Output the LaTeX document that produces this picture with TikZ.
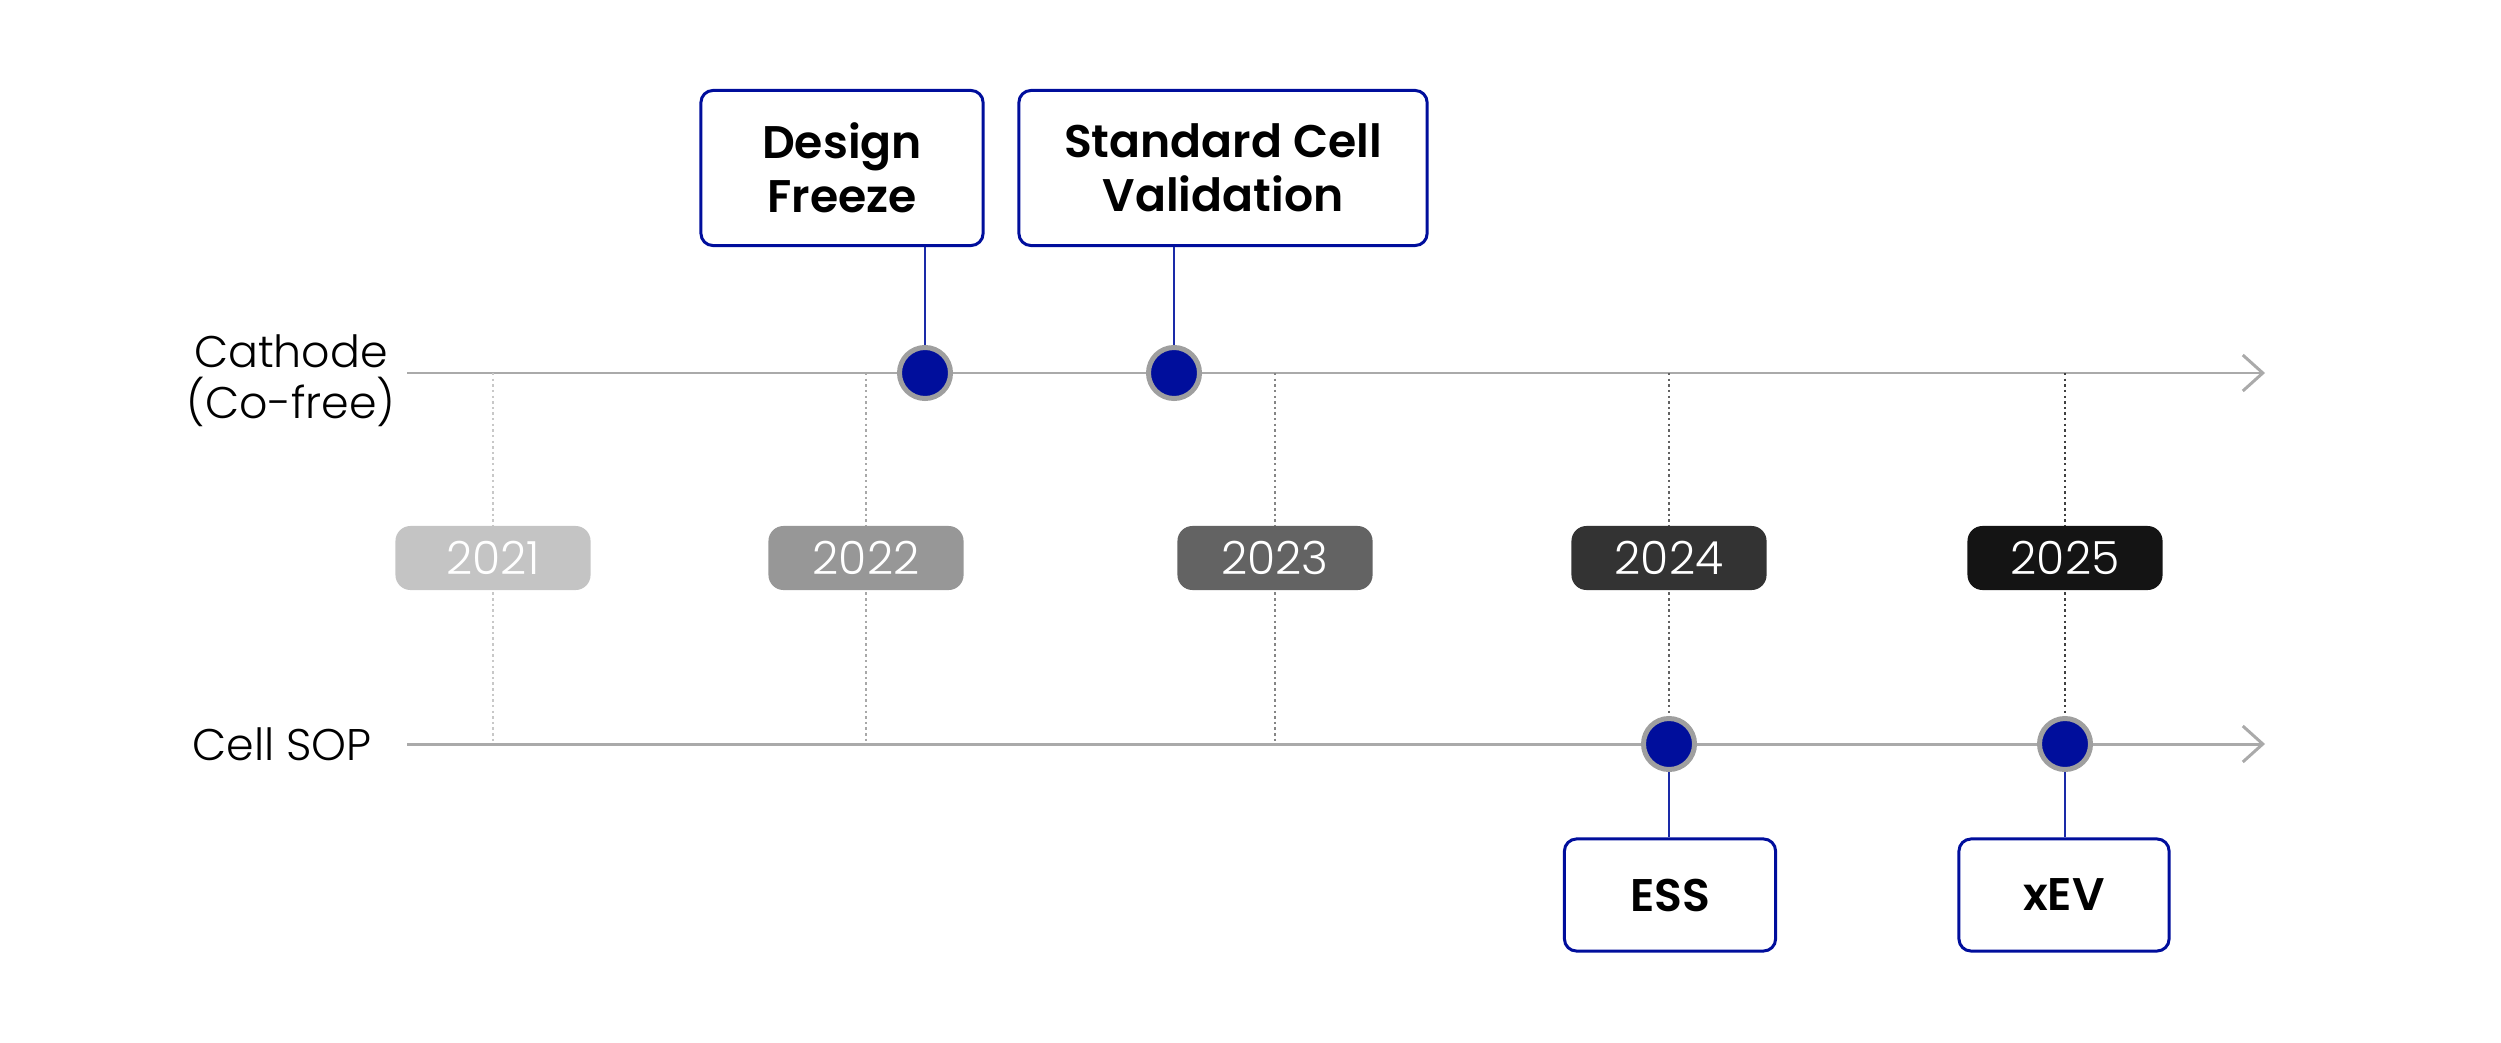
\documentclass[tikz,border=0pt]{standalone}
\usepackage{fontspec}
\setmainfont{Poppins}
\newfontfamily\lightfont{Poppins Light}
\newfontfamily\semifont{Poppins SemiBold}
\usepackage{xcolor}
\usetikzlibrary{positioning,arrows.meta}

\definecolor{navy}{HTML}{000E9C}
\definecolor{navyline}{HTML}{1A2AA8}
\definecolor{axisgray}{HTML}{AAAAAA}

\begin{document}
\begin{tikzpicture}[
            x=0.01cm, y=-0.01cm,
            event/.style={draw=navy, line width=0.85pt, rounded corners=0.12cm, fill=white, align=center, font=\fontsize{13}{15.5}\selectfont\semifont},
            year/.style={rounded corners=0.15cm, minimum width=1.95cm, minimum height=0.64cm, text=white, font=\fontsize{13}{15}\selectfont\lightfont},
            milestone/.style={circle, fill=navy, draw=gray!75, line width=0.05cm, minimum size=0.51cm, inner sep=0pt},
            axis/.style={draw=axisgray, line width=0.85pt, -{Straight Barb[length=0.2cm, width=0.36cm]}},
            guide/.style={dash pattern=on 0.7pt off 0.9pt, line width=0.75pt},
            stem/.style={draw=navyline, line width=0.6pt},
            lane/.style={align=center, font=\fontsize{12.6}{14.6}\selectfont\lightfont}
        ]
        \useasboundingbox (0,0) rectangle (2501,1043);

        % Lanes
        \node[lane] (cathode) at (291,381) {Cathode\\(Co-free)};
        \node[lane, anchor=west] (sop) at (180,744) {Cell SOP};
        \coordinate (c0) at (407,373);
        \coordinate (c1) at (2265,373);
        \coordinate (s0) at (407,744);
        \coordinate (s1) at (2265,744);
        \draw[axis] (c0) -- (c1);
        \draw[axis] (s0) -- (s1);

        % Years
        \foreach \x/\dotcol in {493/C8C8C8, 866/A8A8A8, 1275/858585, 1669/626262, 2065/404040} {
            \definecolor{guidec}{HTML}{\dotcol}
            \draw[guide, draw=guidec] (\x,373) -- (\x,744);
        }
        \node[year, fill={rgb,255:red,196;green,196;blue,196}] (y21) at (493,558) {2021};
        \node[year, fill={rgb,255:red,151;green,151;blue,151}] (y22) at (866,558) {2022};
        \node[year, fill={rgb,255:red,99;green,99;blue,99}] (y23) at (1275,558) {2023};
        \node[year, fill={rgb,255:red,51;green,51;blue,51}] (y24) at (1669,558) {2024};
        \node[year, fill={rgb,255:red,20;green,20;blue,20}] (y25) at (2065,558) {2025};

        % Milestones
        \node[milestone] (dfdot) at (925,373) {};
        \node[milestone] (scdot) at (1174,373) {};
        \node[milestone] (essdot) at (y24.center |- s0) {};
        \node[milestone] (xevdot) at (y25.center |- s0) {};

        % Events
        \node[event, minimum width=2.82cm, minimum height=1.55cm] (df) at (842,168) {Design\\Freeze};
        \node[event, minimum width=4.08cm, minimum height=1.55cm] (sc) at (1223,168) {Standard Cell\\Validation};
        \node[event, minimum width=2.11cm, minimum height=1.12cm] (ess) at (1670,895) {ESS};
        \node[event, minimum width=2.10cm, minimum height=1.12cm] (xev) at (2064,895) {xEV};

        % Stems
        \draw[stem] (dfdot) -- (dfdot |- df.south);
        \draw[stem] (scdot) -- (scdot |- sc.south);
        \draw[stem] (essdot) -- (essdot |- ess.north);
        \draw[stem] (xevdot) -- (xevdot |- xev.north);
        \end{tikzpicture}
\end{document}
